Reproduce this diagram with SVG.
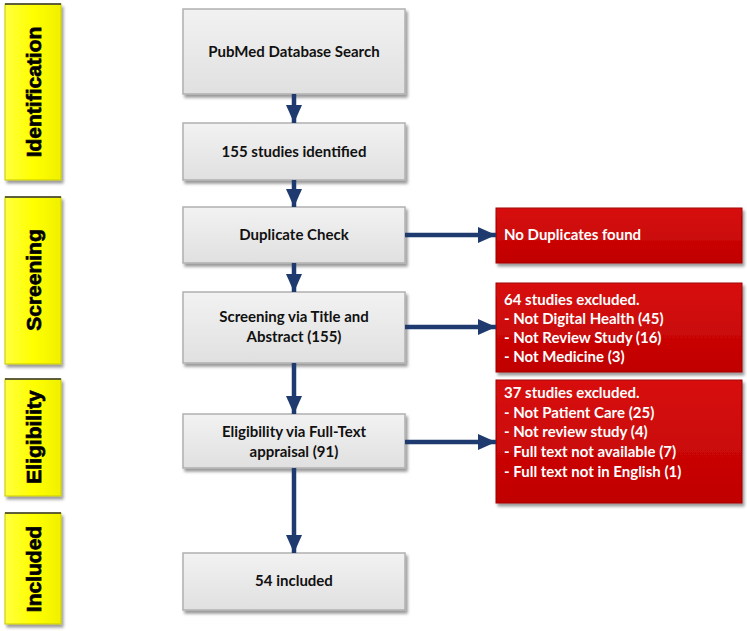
<svg xmlns="http://www.w3.org/2000/svg" width="747" height="631" viewBox="0 0 747 631">
<defs>
<linearGradient id="gGray" x1="0" y1="0" x2="0" y2="1">
<stop offset="0" stop-color="#f2f2f2"/><stop offset="1" stop-color="#e0e0e0"/>
</linearGradient>
<linearGradient id="gRed" x1="0" y1="0" x2="0" y2="1">
<stop offset="0" stop-color="#d81010"/><stop offset="1" stop-color="#c00000"/>
</linearGradient>
<linearGradient id="gYel" x1="0" y1="0" x2="1" y2="0">
<stop offset="0" stop-color="#ffff40"/><stop offset="0.5" stop-color="#ffff00"/><stop offset="1" stop-color="#f0f000"/>
</linearGradient>
<filter id="sh" x="-10%" y="-10%" width="130%" height="140%">
<feDropShadow dx="2" dy="3" stdDeviation="1.5" flood-color="#000" flood-opacity="0.4"/>
</filter>
<marker id="ah" markerUnits="userSpaceOnUse" markerWidth="18" markerHeight="16" viewBox="0 0 18 16" refX="18" refY="8" orient="auto">
<path d="M0,0 L18,8 L0,16 Z" fill="#1f3a6e"/>
</marker>
<style>
.gray{fill:url(#gGray);stroke:#b0b0b0;stroke-width:1.5;filter:url(#sh)}
.red{fill:url(#gRed);stroke:#a00000;stroke-width:1;filter:url(#sh)}
.yel{fill:url(#gYel);stroke:#c8c800;stroke-width:1;filter:url(#sh)}
.ytop{stroke:#333;stroke-width:1.5}
.gt{font-family:Lato,"Liberation Sans",Arial,sans-serif;font-weight:bold;font-size:15px;fill:#111;text-anchor:middle}
.rt{font-family:Lato,"Liberation Sans",Arial,sans-serif;font-weight:bold;font-size:15px;fill:#fff}
.yt{font-family:"Liberation Sans",Arial,sans-serif;font-weight:bold;font-size:21px;fill:#000;stroke:#000;stroke-width:0.7;text-anchor:middle}
.con{stroke:#1f3a6e;stroke-width:4.5;fill:none;marker-end:url(#ah)}
</style>
</defs>
<rect width="747" height="631" fill="#fff"/>

<g id="phase-identification"><rect class="yel" x="5" y="4" width="56" height="176"/><line class="ytop" x1="5" y1="4" x2="61" y2="4"/><text class="yt" transform="translate(41,92) rotate(-90)">Identification</text></g>
<g id="phase-screening"><rect class="yel" x="5" y="197" width="56" height="167"/><line class="ytop" x1="5" y1="197" x2="61" y2="197"/><text class="yt" transform="translate(41,280) rotate(-90)">Screening</text></g>
<g id="phase-eligibility"><rect class="yel" x="5" y="379" width="56" height="117"/><line class="ytop" x1="5" y1="379" x2="61" y2="379"/><text class="yt" transform="translate(41,437) rotate(-90)">Eligibility</text></g>
<g id="phase-included"><rect class="yel" x="5" y="513" width="56" height="111"/><line class="ytop" x1="5" y1="513" x2="61" y2="513"/><text class="yt" transform="translate(41,569) rotate(-90)">Included</text></g>

<g id="pubmed"><rect class="gray" x="183" y="9" width="222" height="85"/><text class="gt" x="294" y="57">PubMed Database Search</text></g>
<g id="identified"><rect class="gray" x="183" y="123" width="222" height="57"/><text class="gt" x="294" y="157">155 studies identified</text></g>
<g id="duplicate"><rect class="gray" x="183" y="207" width="222" height="56"/><text class="gt" x="294" y="240">Duplicate Check</text></g>
<g id="screening"><rect class="gray" x="183" y="292" width="222" height="71"/><text class="gt" x="294" y="322">Screening via Title and</text><text class="gt" x="294" y="342">Abstract (155)</text></g>
<g id="eligibility"><rect class="gray" x="183" y="414" width="222" height="54"/><text class="gt" x="294" y="437">Eligibility via Full-Text</text><text class="gt" x="294" y="457">appraisal (91)</text></g>
<g id="included"><rect class="gray" x="183" y="553" width="222" height="57"/><text class="gt" x="294" y="586">54 included</text></g>

<g id="no-duplicates"><rect class="red" x="496" y="208" width="246" height="55"/><text class="rt" x="504" y="240">No Duplicates found</text></g>
<g id="excluded-64"><rect class="red" x="496" y="283" width="246" height="89"/>
<text class="rt" x="504" y="305">64 studies excluded.</text>
<text class="rt" x="504" y="324">- Not Digital Health (45)</text>
<text class="rt" x="504" y="343">- Not Review Study (16)</text>
<text class="rt" x="504" y="362">- Not Medicine (3)</text></g>
<g id="excluded-37"><rect class="red" x="496" y="380" width="246" height="123"/>
<text class="rt" x="504" y="398">37 studies excluded.</text>
<text class="rt" x="504" y="418">- Not Patient Care (25)</text>
<text class="rt" x="504" y="437">- Not review study (4)</text>
<text class="rt" x="504" y="457">- Full text not available (7)</text>
<text class="rt" x="504" y="477">- Full text not in English (1)</text></g>

<g id="connectors">
<line class="con" x1="294" y1="94" x2="294" y2="123"/>
<line class="con" x1="294" y1="180" x2="294" y2="207"/>
<line class="con" x1="294" y1="263" x2="294" y2="292"/>
<line class="con" x1="294" y1="363" x2="294" y2="414"/>
<line class="con" x1="294" y1="468" x2="294" y2="553"/>
<line class="con" x1="405" y1="235" x2="496" y2="235"/>
<line class="con" x1="405" y1="327" x2="496" y2="327"/>
<line class="con" x1="405" y1="442" x2="496" y2="442"/>
</g>
</svg>
